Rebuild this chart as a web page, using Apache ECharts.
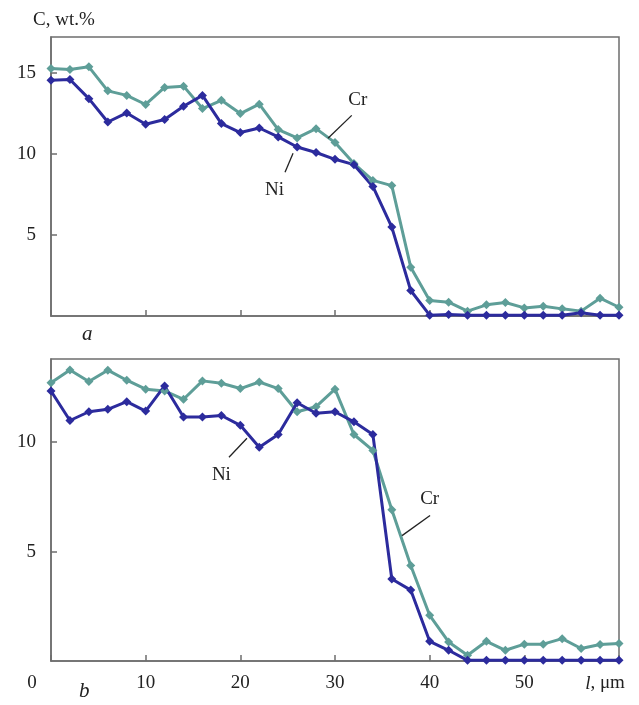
<!DOCTYPE html>
<html>
<head>
<meta charset="utf-8">
<script src="https://cdn.jsdelivr.net/npm/echarts@6/dist/echarts.min.js"></script>
<style>
html,body{margin:0;padding:0;background:#fff;}
#chart{width:639px;height:705px;}
</style>
</head>
<body>
<div id="chart"></div>
<script>
// Depth l, µm
var depth = [0,2,4,6,8,10,12,14,16,18,20,22,24,26,28,30,32,34,36,38,40,42,44,46,48,50,52,54,56,58,60];
// Panel a
var crA = [15.26,15.2,15.36,13.88,13.6,13.04,14.09,14.17,12.79,13.3,12.48,13.06,11.49,10.98,11.55,10.69,9.4,8.36,8.04,3.01,0.96,0.85,0.3,0.69,0.83,0.5,0.6,0.44,0.3,1.1,0.54];
var niA = [14.54,14.58,13.4,11.96,12.52,11.82,12.11,12.93,13.6,11.86,11.31,11.59,11.04,10.42,10.08,9.66,9.33,7.99,5.48,1.57,0.05,0.1,0.05,0.05,0.05,0.05,0.05,0.05,0.2,0.05,0.05];
// Panel b
var crB = [12.72,13.3,12.77,13.29,12.83,12.42,12.34,11.96,12.8,12.69,12.45,12.75,12.45,11.39,11.62,12.42,10.35,9.62,6.91,4.36,2.09,0.87,0.26,0.9,0.49,0.77,0.77,1.02,0.57,0.75,0.8];
var niB = [12.34,10.99,11.39,11.5,11.85,11.42,12.57,11.15,11.15,11.22,10.77,9.77,10.35,11.8,11.32,11.39,10.93,10.35,3.75,3.24,0.9,0.49,0.03,0.03,0.03,0.03,0.03,0.03,0.03,0.03,0.03];
var xTicks = [0,10,20,30,40,50,60];
var yTicks = [5,10,15];

var FONT = '"Liberation Serif","DejaVu Serif",serif';
var AX = '#6e6e6e';
var CR = '#5e9e98';
var NI = '#2c2b9d';

function pairs(xs, ys){ return xs.map(function(x,i){ return [x, ys[i]]; }); }

function xAxis(gi, showLabels){
  return {
    type:'value', gridIndex:gi, min:0, max:60, interval:10,
    axisLine:{show:true, lineStyle:{color:AX, width:1.5}},
    axisTick:{show:true, inside:true, length:6, lineStyle:{color:AX, width:1.5}},
    splitLine:{show:false},
    axisLabel:{
      show:showLabels, margin:13, color:'#222', fontSize:19, fontFamily:FONT,
      formatter:function(v){
        if (v===0) return '{z|0}';
        if (v===60) return '{i|l}{n|, μm}';
        return xTicks.indexOf(v)>=0 ? String(v) : '';
      },
      rich:{
        z:{fontSize:19, fontFamily:FONT, color:'#222', padding:[0,38,0,0]},
        i:{fontSize:19, fontFamily:FONT, color:'#222', fontStyle:'italic'},
        n:{fontSize:19, fontFamily:FONT, color:'#222', padding:[0,28,0,0]}
      }
    }
  };
}
function yAxis(gi, max){
  return {
    type:'value', gridIndex:gi, min:0, max:max, interval:5,
    axisLine:{show:true, lineStyle:{color:AX, width:1.5}},
    axisTick:{show:true, inside:true, length:6, lineStyle:{color:AX, width:1.5},
      customValues: yTicks},
    splitLine:{show:false},
    axisLabel:{show:true, margin:15, color:'#222', fontSize:19, fontFamily:FONT,
      customValues: yTicks,
      formatter:function(v){ return yTicks.indexOf(v)>=0 ? String(v) : ''; }}
  };
}
function line(name, gi, data, color, extra){
  var s = {
    name:name, type:'line', xAxisIndex:gi, yAxisIndex:gi, data:data,
    symbol:'diamond', symbolSize:9, showSymbol:true,
    lineStyle:{color:color, width:3}, itemStyle:{color:color},
    animation:false, z:3
  };
  if (extra) for (var k in extra) s[k]=extra[k];
  return s;
}
function leader(from, to){
  return {symbol:['none','none'], silent:true, animation:false,
    lineStyle:{color:'#222', width:1.3, type:'solid'}, label:{show:false},
    emphasis:{disabled:true},
    data:[[{coord:from},{coord:to}]]};
}
function tag(text, at){
  return {silent:true, animation:false,
    data:[{coord:at, symbol:'circle', symbolSize:1, itemStyle:{color:'rgba(0,0,0,0)'},
      label:{show:true, position:'inside', formatter:text, color:'#222', fontSize:19, fontFamily:FONT}}]};
}

var chart = echarts.init(document.getElementById('chart'), null, {renderer:'canvas'});
chart.setOption({
  backgroundColor:'#fff',
  animation:false,
  grid:[
    {left:51, top:37, width:568, height:279, show:true, borderColor:AX, borderWidth:1.5},
    {left:51, top:359, width:568, height:302, show:true, borderColor:AX, borderWidth:1.5}
  ],
  xAxis:[xAxis(0,false), xAxis(1,true)],
  yAxis:[yAxis(0,17.2), yAxis(1,13.8)],
  graphic:[
    {type:'text', left:33, top:11, style:{text:'C, wt.%', fontSize:19, fontFamily:FONT, fill:'#222'}},
    {type:'text', left:82, top:324, style:{text:'a', fontSize:21, fontStyle:'italic', fontFamily:FONT, fill:'#222'}},
    {type:'text', left:79, top:681, style:{text:'b', fontSize:21, fontStyle:'italic', fontFamily:FONT, fill:'#222'}}
  ],
  series:[
    line('Cr', 0, pairs(depth, crA), CR, {markLine:leader([31.77,12.37],[29.26,10.96]), markPoint:tag('Cr',[32.4,13.3])}),
    line('Ni', 0, pairs(depth, niA), NI, {markLine:leader([25.57,10.03],[24.72,8.86]), markPoint:tag('Ni',[23.6,7.75])}),
    line('Cr', 1, pairs(depth, crB), CR, {markLine:leader([40.04,6.65],[37.08,5.73]), markPoint:tag('Cr',[40.0,7.4])}),
    line('Ni', 1, pairs(depth, niB), NI, {markLine:leader([20.7,10.18],[18.8,9.31]), markPoint:tag('Ni',[18.0,8.5])})
  ]
});
</script>
</body>
</html>
